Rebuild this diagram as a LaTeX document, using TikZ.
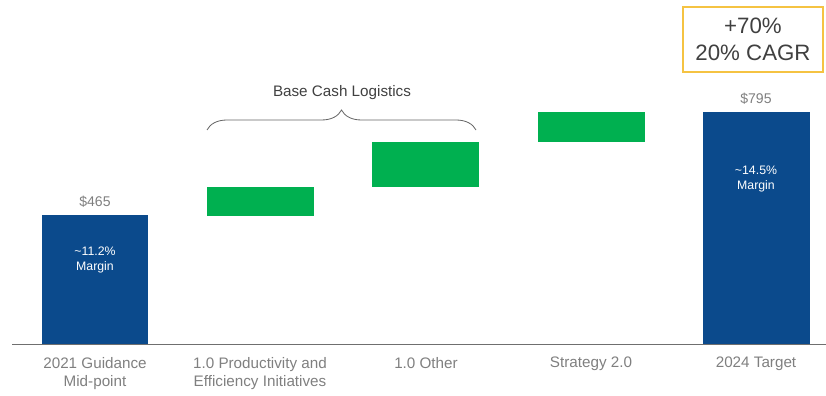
\documentclass[tikz,border=0pt]{standalone}
\usepackage{fontspec}
\setmainfont{Liberation Sans}
\usepackage{tikz}
\usetikzlibrary{positioning}
\usetikzlibrary{calc}
\usetikzlibrary{decorations.pathreplacing}
\definecolor{navy}{HTML}{0B4A8C}
\definecolor{gain}{HTML}{00B050}
\definecolor{axisgrey}{HTML}{6F6F6F}
\definecolor{labelgrey}{HTML}{7F7F7F}
\definecolor{darktext}{HTML}{404040}
\definecolor{gold}{HTML}{F5C342}
\tikzstyle{total} = [fill=navy]
\tikzstyle{step up} = [fill=gain]
\tikzstyle{category} = [anchor=north, inner sep=0, align=center, text=labelgrey, font=\fontsize{13}{15.5}\selectfont]
\tikzstyle{value} = [anchor=base, inner sep=0, text=labelgrey, font=\fontsize{12}{14}\selectfont]
\tikzstyle{margin} = [anchor=north, inner sep=0, align=center, text=white, font=\fontsize{10.5}{12.6}\selectfont]

\begin{document}
\begin{tikzpicture}[x=0.03cm, y=-0.03cm]
	\useasboundingbox (0,0) rectangle (826,396);

	% bars
	\fill[total] (42,215) rectangle (148,344);
	\fill[step up] (207,187) rectangle (314,216);
	\fill[step up] (372,142) rectangle (479,187);
	\fill[step up] (538,112) rectangle (645,142);
	\fill[total] (703,112) rectangle (810,344);

	% axis
	\coordinate (axl) at (12,344);
	\coordinate (axr) at (826,344);
	\draw[axisgrey, line width=0.8pt] (axl) -- (axr);

	% totals
	\node (v1) at (95,207) [value] {\$465};
	\node (v5) at (756,104) [value] {\$795};
	\node (m1) at (95,247) [margin] {\textasciitilde11.2\%\\Margin};
	\node (m5) at (756,166) [margin] {\textasciitilde14.5\%\\Margin};

	% categories
	\node (c1) at (95,357) [category] {2021 Guidance\\Mid-point};
	\node (c2) at (260,357) [category] {1.0 Productivity and\\Efficiency Initiatives};
	\node (c3) at (426,357) [category] {1.0 Other};
	\node (c4) at (591,357) [category] {Strategy 2.0};
	\node (c5) at (756,357) [category] {2024 Target};

	% brace over the 1.0 steps
	\coordinate (bl) at (207,130);
	\coordinate (br) at (476,130);
	\draw[darktext!80, line width=0.7pt, decorate, decoration={brace, amplitude=0.6cm, aspect=0.5}] (bl) -- (br);
	\node (base) at (342,97) [anchor=base, inner sep=0, text=darktext, font=\fontsize{13}{15.5}\selectfont] {Base Cash Logistics};

	% growth callout
	\node (growth) at (753,39.5) [draw=gold, line width=1.4pt, minimum width=140*0.03cm, minimum height=65*0.03cm, align=center, text=darktext, font=\fontsize{19}{23.5}\selectfont] {+70\%\\20\% CAGR};
\end{tikzpicture}
\end{document}
